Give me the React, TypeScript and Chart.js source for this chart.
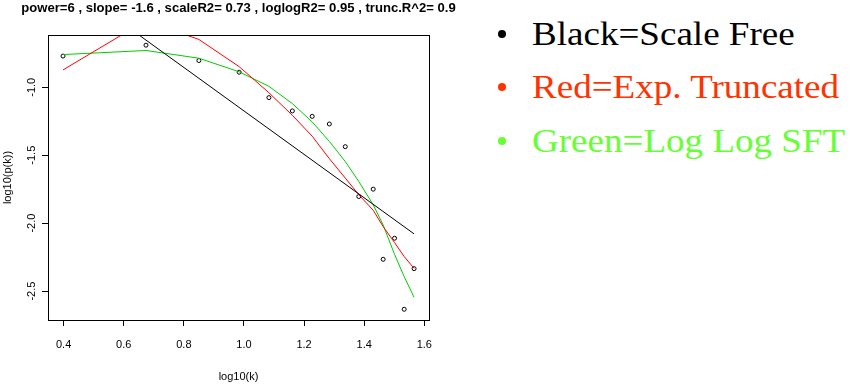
import React, { useEffect, useRef } from "react";
import { Chart, registerables } from "chart.js";

Chart.register(...registerables);

// log10(k) of each observed degree bin
const logK = [0.398, 0.674, 0.85, 0.984, 1.083, 1.161, 1.227, 1.284, 1.337, 1.382, 1.43, 1.463, 1.501, 1.533, 1.566];
// observed log10(p(k))
const logPk = [-0.77, -0.69, -0.803, -0.889, -1.076, -1.174, -1.214, -1.27, -1.437, -1.804, -1.75, -2.266, -2.111, -2.634, -2.335];
// red: exponentially truncated fit
const truncatedFit = [-0.872, -0.508, -0.648, -0.848, -1.04, -1.206, -1.36, -1.525, -1.668, -1.791, -1.905, -2.025, -2.143, -2.246, -2.333];
// green: log-log fit
const loglogFit = [-0.759, -0.729, -0.786, -0.886, -0.993, -1.12, -1.255, -1.398, -1.546, -1.693, -1.865, -2.013, -2.23, -2.394, -2.546];
// black: scale free line
const scaleFreeX = [0.398, 1.566];
const scaleFreeY = [-0.211, -2.079];

const xTicks = [0.4, 0.6, 0.8, 1.0, 1.2, 1.4, 1.6];
const yTicks = [-2.5, -2.0, -1.5, -1.0];

const titleText = "power=6 , slope= -1.6 , scaleR2= 0.73 , loglogR2= 0.95 , trunc.R^2= 0.9";
const xTitle = "log10(k)";
const yTitle = "log10(p(k))";

const legendLabels = ["Black=Scale Free", "Red=Exp. Truncated", "Green=Log Log SFT"];
const legendColors = ["#000000", "#ff3300", "#66ff33"];

const SANS = "'Liberation Sans', Arial, sans-serif";

export default function App() {
  const ref = useRef<HTMLCanvasElement | null>(null);

  useEffect(() => {
    document.body.style.margin = "0";
    const boxPlugin = {
      id: "rbox",
      afterDatasetsDraw(chart: any) {
        const { ctx, chartArea: a } = chart;
        ctx.save();
        ctx.strokeStyle = "#000";
        ctx.lineWidth = 1;
        ctx.strokeRect(Math.round(a.left) + 0.5, Math.round(a.top) + 0.5, Math.round(a.right - a.left), Math.round(a.bottom - a.top));
        ctx.restore();
      },
    };
    const tickFont = { family: SANS, size: 11 };
    const chart = new Chart(ref.current as HTMLCanvasElement, {
      type: "scatter",
      data: {
        datasets: [
          {
            data: scaleFreeX.map((x, i) => ({ x, y: scaleFreeY[i] })),
            showLine: true,
            borderColor: "#000000",
            borderWidth: 1,
            pointRadius: 0,
          },
          {
            data: logK.map((x, i) => ({ x, y: truncatedFit[i] })),
            showLine: true,
            borderColor: "#ff0000",
            borderWidth: 1,
            pointRadius: 0,
          },
          {
            data: logK.map((x, i) => ({ x, y: loglogFit[i] })),
            showLine: true,
            borderColor: "#00cc00",
            borderWidth: 1,
            pointRadius: 0,
          },
          {
            data: logK.map((x, i) => ({ x, y: logPk[i] })),
            showLine: false,
            pointStyle: "circle",
            pointRadius: 2,
            pointBorderWidth: 1,
            borderColor: "#000000",
            backgroundColor: "rgba(0,0,0,0)",
          },
        ],
      } as any,
      options: {
        responsive: false,
        animation: false,
        devicePixelRatio: 1,
        events: [],
        layout: { padding: { left: 0, right: 0, top: 0, bottom: 0 } },
        plugins: {
          legend: { display: false },
          tooltip: { enabled: false },
          title: {
            display: true,
            text: titleText,
            color: "#000",
            font: { family: SANS, size: 13.1, weight: "bold" },
            padding: { top: 0.5, bottom: 18.78 },
          },
        },
        scales: {
          x: {
            type: "linear",
            min: 0.348,
            max: 1.6156,
            afterBuildTicks: (s: any) => {
              s.ticks = xTicks.map((v) => ({ value: v }));
            },
            afterFit: (s: any) => {
              s.height = 67;
            },
            border: { display: false },
            grid: { drawOnChartArea: false, drawTicks: true, tickLength: 6, color: "#000" },
            ticks: {
              color: "#000",
              font: tickFont,
              padding: 12,
              maxRotation: 0,
              autoSkip: false,
              callback: (v: any) => Number(v).toFixed(1),
            },
            title: { display: true, text: xTitle, color: "#000", font: tickFont, padding: { top: 0, bottom: 3 } },
          },
          y: {
            type: "linear",
            min: -2.713,
            max: -0.615,
            afterBuildTicks: (s: any) => {
              s.ticks = yTicks.map((v) => ({ value: v }));
            },
            afterFit: (s: any) => {
              s.width = 48;
            },
            border: { display: false },
            grid: { drawOnChartArea: false, drawTicks: true, tickLength: 6, color: "#000" },
            ticks: {
              color: "#000",
              font: tickFont,
              padding: 1,
              minRotation: 90,
              maxRotation: 90,
              crossAlign: "center",
              autoSkip: false,
              callback: (v: any) => Number(v).toFixed(1),
            },
            title: { display: true, text: yTitle, color: "#000", font: tickFont, padding: { top: 1, bottom: 0 } },
          },
          yRight: {
            type: "linear",
            position: "right",
            min: -2.713,
            max: -0.615,
            afterFit: (s: any) => {
              s.width = 48;
            },
            border: { display: false },
            grid: { display: false, drawTicks: false },
            ticks: { display: false },
          },
        },
      } as any,
      plugins: [boxPlugin],
    });
    return () => chart.destroy();
  }, []);

  return (
    <div style={{ position: "absolute", left: 0, top: 0, width: 852, height: 387, background: "#fff", overflow: "hidden" }}>
      <canvas ref={ref} width={477} height={387} style={{ position: "absolute", left: 0, top: 0 }} />
      {legendLabels.map((label, i) => (
        <div key={label}>
          <div
            style={{
              position: "absolute",
              left: 498,
              top: 29.5 + i * 53.7,
              width: 8,
              height: 8,
              borderRadius: "50%",
              background: legendColors[i],
            }}
          />
          <div
            style={{
              position: "absolute",
              left: 532,
              top: 16.5 + i * 53.7,
              fontFamily: "'Liberation Serif', 'Times New Roman', serif",
              fontSize: 34,
              lineHeight: "34px",
              whiteSpace: "nowrap",
              color: legendColors[i],
              transform: "scaleX(1.09)",
              transformOrigin: "0 0",
            }}
          >
            {label}
          </div>
        </div>
      ))}
    </div>
  );
}
